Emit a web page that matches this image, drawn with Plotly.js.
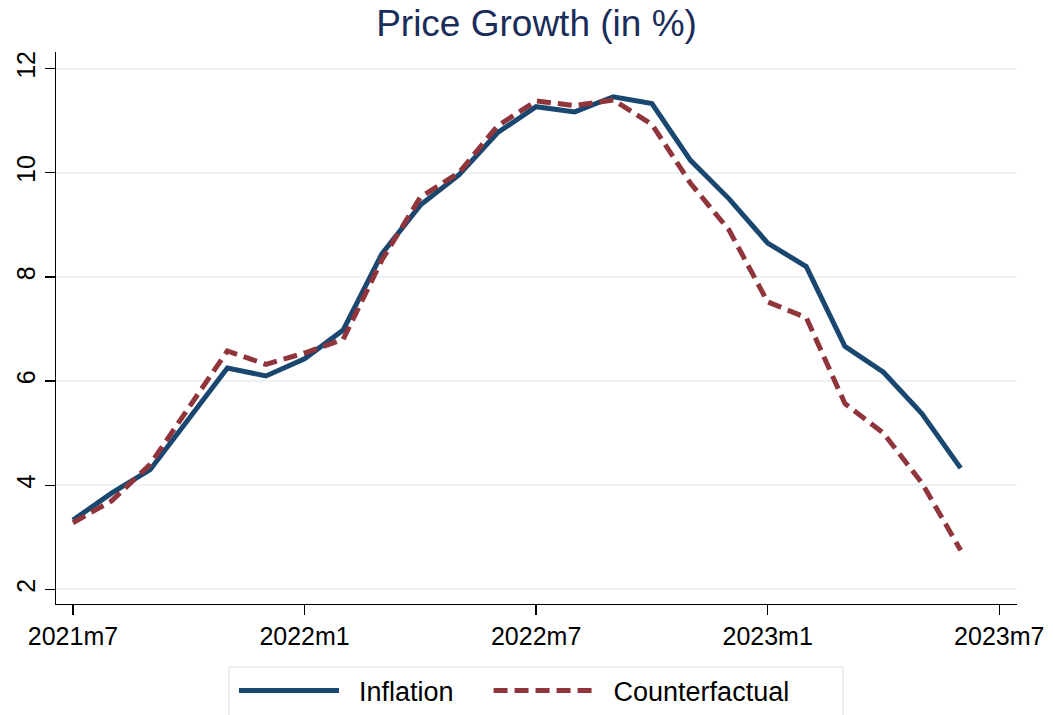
<!DOCTYPE html>
<html>
<head>
<meta charset="utf-8">
<script src="https://cdn.plot.ly/plotly-3.0.1.min.js"></script>
<style>html,body{margin:0;padding:0;background:#fff;}#chart{width:1053px;height:715px;}</style>
</head>
<body>
<div id="chart"></div>
<script>
const months = ['2021m7','2021m8','2021m9','2021m10','2021m11','2021m12',
  '2022m1','2022m2','2022m3','2022m4','2022m5','2022m6',
  '2022m7','2022m8','2022m9','2022m10','2022m11','2022m12',
  '2023m1','2023m2','2023m3','2023m4','2023m5','2023m6'];
const inflation = [3.33, 3.85, 4.30, 5.28, 6.25, 6.10, 6.43, 6.98, 8.44, 9.38, 9.96, 10.77,
  11.27, 11.17, 11.46, 11.33, 10.24, 9.50, 8.65, 8.20, 6.67, 6.17, 5.37, 4.33];
const counterfactual = [3.28, 3.70, 4.40, 5.50, 6.58, 6.32, 6.54, 6.80, 8.32, 9.53, 10.00, 10.90,
  11.38, 11.29, 11.40, 10.93, 9.80, 8.90, 7.52, 7.22, 5.57, 5.00, 4.04, 2.75];
const tickLabels = ['2021m7','2022m1','2022m7','2023m1','2023m7'];
const tickIdx = [0, 6, 12, 18, 24];
const yTicks = [2, 4, 6, 8, 10, 12];
const seriesNames = ['Inflation', 'Counterfactual'];

const xIdx = months.map((m, i) => i);
const pad = '\u00a0\u00a0';
const tail = '\u00a0\u00a0\u00a0\u00a0';

const traces = [
  {x: xIdx, y: inflation, name: pad + seriesNames[0] + tail, type: 'scatter', mode: 'lines',
   line: {color: '#1a476f', width: 5}},
  {x: xIdx, y: counterfactual, name: pad + seriesNames[1], type: 'scatter', mode: 'lines',
   line: {color: '#90353b', width: 5, dash: '14px,7px'}}
];

const layout = {
  width: 1053, height: 715,
  paper_bgcolor: '#ffffff', plot_bgcolor: '#ffffff',
  margin: {l: 56, r: 36, t: 52, b: 111, autoexpand: false},
  font: {family: 'Liberation Sans, Arial, sans-serif', color: '#000', size: 25},
  title: {text: 'Price Growth (in %)', xref: 'paper', x: 0.5, xanchor: 'center',
    yref: 'container', y: 0.968, yanchor: 'middle',
    font: {size: 37, color: '#1a2d5a', family: 'Liberation Sans, Arial, sans-serif'}},
  showlegend: true,
  legend: {orientation: 'h', x: 0.1852, xanchor: 'left', y: -0.113, yanchor: 'top',
    borderwidth: 0, bgcolor: 'rgba(0,0,0,0)',
    font: {size: 27, color: '#000'}, itemwidth: 100},
  shapes: [{type: 'rect', xref: 'paper', yref: 'paper', x0: 0.180, x1: 0.819, y0: -0.114, y1: -0.30,
    line: {color: '#e3ebed', width: 1.5}, fillcolor: 'rgba(0,0,0,0)', layer: 'below'}],
  xaxis: {range: [-0.44, 24.46], tickvals: tickIdx, ticktext: tickLabels,
    showgrid: false, zeroline: false, showline: true, linecolor: '#000', linewidth: 1.3,
    ticks: 'outside', ticklen: 10, tickwidth: 1.3, tickcolor: '#000',
    tickfont: {size: 25}, fixedrange: true},
  yaxis: {range: [1.72, 12.32], tickvals: yTicks, tickangle: -90,
    showgrid: true, gridcolor: '#eaf2f3', gridwidth: 2, zeroline: false,
    showline: true, linecolor: '#000', linewidth: 1.3,
    ticks: 'outside', ticklen: 10, tickwidth: 1.3, tickcolor: '#000',
    tickfont: {size: 25}, fixedrange: true}
};

Plotly.newPlot('chart', traces, layout, {displayModeBar: false, staticPlot: true});
</script>
</body>
</html>
